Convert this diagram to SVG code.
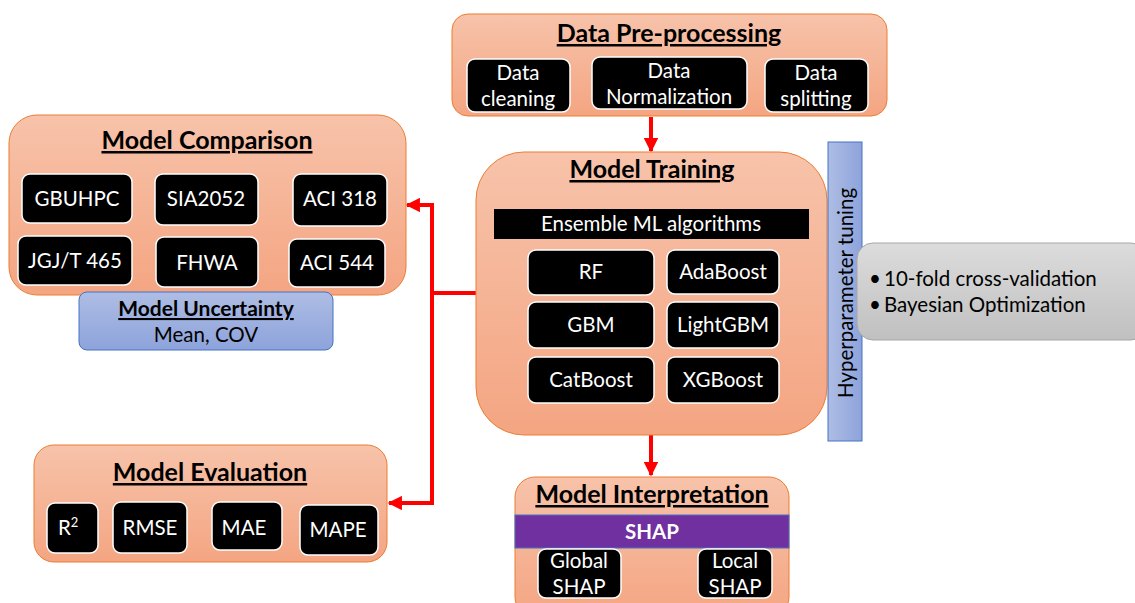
<svg xmlns="http://www.w3.org/2000/svg" width="1135" height="603" viewBox="0 0 1135 603">
  <defs>
    <linearGradient id="gOrange" x1="0" y1="0" x2="0" y2="1">
      <stop offset="0" stop-color="#f7c3aa"/>
      <stop offset="1" stop-color="#f4a582"/>
    </linearGradient>
    <linearGradient id="gBlue" x1="0" y1="0" x2="0" y2="1">
      <stop offset="0" stop-color="#aebde4"/>
      <stop offset="1" stop-color="#8da3db"/>
    </linearGradient>
    <linearGradient id="gBlueH" x1="0" y1="0" x2="1" y2="0">
      <stop offset="0" stop-color="#aebde4"/>
      <stop offset="1" stop-color="#8da3db"/>
    </linearGradient>
    <linearGradient id="gGray" x1="0" y1="0" x2="0" y2="1">
      <stop offset="0" stop-color="#dcdcdc"/>
      <stop offset="1" stop-color="#c0c0c0"/>
    </linearGradient>
    <marker id="arrow" viewBox="0 0 10 10" refX="9" refY="5" markerWidth="4" markerHeight="3.6" markerUnits="strokeWidth" orient="auto">
      <path d="M0,0 L10,5 L0,10 z" fill="#ff0000"/>
    </marker>
  </defs>
  <style>
    .panel { fill: url(#gOrange); stroke: #ed7d31; stroke-width: 1; }
    .item { fill: #000000; stroke: #ffffff; stroke-width: 1.5; }
    .title { font-family: Lato, "Liberation Sans", sans-serif; font-weight: bold; font-size: 25px; fill: #000; text-anchor: middle; text-decoration: underline; }
    .lbl { font-family: Lato, "Liberation Sans", sans-serif; font-size: 20.5px; fill: #fff; text-anchor: middle; }
    .dark { font-family: Lato, "Liberation Sans", sans-serif; font-size: 20.5px; fill: #000; }
    .wire { fill: none; stroke: #ff0000; stroke-width: 4; }
  </style>

  <!-- connectors -->
  <g id="connectors">
    <line class="wire" x1="651" y1="117" x2="651" y2="151" marker-end="url(#arrow)"/>
    <line class="wire" x1="651" y1="435" x2="651" y2="475" marker-end="url(#arrow)"/>
    <polyline class="wire" points="476,293 432,293"/>
    <polyline class="wire" points="432,293 432,205 407,205" marker-end="url(#arrow)"/>
    <polyline class="wire" points="432,293 432,503 389,503" marker-end="url(#arrow)"/>
  </g>

  <!-- data pre-processing -->
  <g id="preprocessing">
    <rect class="panel" x="452" y="14" width="435" height="102" rx="16"/>
    <text class="title" x="669" y="42">Data Pre-processing</text>
    <rect class="item" x="467" y="59" width="103" height="53" rx="8"/>
    <text class="lbl" x="518" y="80">Data</text>
    <text class="lbl" x="518" y="106">cleaning</text>
    <rect class="item" x="592" y="57" width="155" height="52" rx="8"/>
    <text class="lbl" x="669" y="78">Data</text>
    <text class="lbl" x="669" y="104">Normalization</text>
    <rect class="item" x="765" y="59" width="103" height="53" rx="8"/>
    <text class="lbl" x="816" y="80">Data</text>
    <text class="lbl" x="816" y="106">splitting</text>
  </g>

  <!-- model training -->
  <g id="training">
    <rect class="panel" x="476" y="152" width="351" height="283" rx="48"/>
    <text class="title" x="652" y="178">Model Training</text>
    <rect x="494" y="209" width="315" height="30" fill="#000"/>
    <text class="lbl" x="651" y="231">Ensemble ML algorithms</text>
    <rect class="item" x="528" y="250" width="126" height="45" rx="8"/>
    <text class="lbl" x="591" y="279">RF</text>
    <rect class="item" x="667" y="250" width="112" height="44" rx="8"/>
    <text class="lbl" x="723" y="279">AdaBoost</text>
    <rect class="item" x="528" y="302" width="126" height="46" rx="8"/>
    <text class="lbl" x="591" y="332">GBM</text>
    <rect class="item" x="667" y="302" width="112" height="46" rx="8"/>
    <text class="lbl" x="723" y="332">LightGBM</text>
    <rect class="item" x="528" y="357" width="126" height="46" rx="8"/>
    <text class="lbl" x="591" y="387">CatBoost</text>
    <rect class="item" x="667" y="357" width="112" height="46" rx="8"/>
    <text class="lbl" x="723" y="387">XGBoost</text>
  </g>

  <!-- hyperparameter tuning -->
  <g id="tuning">
    <rect x="828" y="142" width="34" height="299" fill="url(#gBlueH)" stroke="#4472c4" stroke-width="1"/>
    <text class="dark" x="0" y="0" text-anchor="middle" transform="translate(853 293) rotate(-90)">Hyperparameter tuning</text>
  </g>

  <!-- tuning details -->
  <g id="tuning-details">
    <rect x="857" y="243" width="290" height="97" rx="16" fill="url(#gGray)" stroke="#a6a6a6" stroke-width="1"/>
    <text class="dark" x="869" y="286">•</text>
    <text class="dark" x="884" y="286">10-fold cross-validation</text>
    <text class="dark" x="869" y="312">•</text>
    <text class="dark" x="884" y="312">Bayesian Optimization</text>
  </g>

  <!-- model comparison -->
  <g id="comparison">
    <rect class="panel" x="9" y="115" width="397" height="180" rx="28"/>
    <text class="title" x="207" y="149">Model Comparison</text>
    <rect class="item" x="22" y="174" width="110" height="49" rx="8"/>
    <text class="lbl" x="77" y="206">GBUHPC</text>
    <rect class="item" x="155" y="174" width="103" height="51" rx="8"/>
    <text class="lbl" x="206" y="206">SIA2052</text>
    <rect class="item" x="293" y="174" width="94" height="52" rx="8"/>
    <text class="lbl" x="340" y="206">ACI 318</text>
    <rect class="item" x="18" y="236" width="114" height="49" rx="8"/>
    <text class="lbl" x="75" y="268">JGJ/T 465</text>
    <rect class="item" x="156" y="237" width="102" height="50" rx="8"/>
    <text class="lbl" x="207" y="270">FHWA</text>
    <rect class="item" x="289" y="239" width="96" height="48" rx="8"/>
    <text class="lbl" x="337" y="270">ACI 544</text>
  </g>

  <!-- model uncertainty -->
  <g id="uncertainty">
    <rect x="79" y="292" width="254" height="58" rx="8" fill="url(#gBlue)" stroke="#4472c4" stroke-width="1"/>
    <text class="dark" x="206" y="316" text-anchor="middle" font-weight="bold" text-decoration="underline" style="font-size:21px">Model Uncertainty</text>
    <text class="dark" x="206" y="342" text-anchor="middle" style="font-size:20.5px">Mean, COV</text>
  </g>

  <!-- model evaluation -->
  <g id="evaluation">
    <rect class="panel" x="34" y="445" width="353" height="117" rx="20"/>
    <text class="title" x="210" y="481">Model Evaluation</text>
    <rect class="item" x="47" y="503" width="51" height="50" rx="8"/>
    <text class="lbl" x="58" y="535" style="text-anchor:start">R<tspan font-size="13" dy="-8">2</tspan></text>
    <rect class="item" x="113" y="502" width="74" height="51" rx="8"/>
    <text class="lbl" x="150" y="535">RMSE</text>
    <rect class="item" x="212" y="502" width="70" height="48" rx="8"/>
    <text class="lbl" x="244" y="535">MAE</text>
    <rect class="item" x="300" y="505" width="78" height="50" rx="8"/>
    <text class="lbl" x="338" y="537">MAPE</text>
  </g>

  <!-- model interpretation -->
  <g id="interpretation">
    <rect class="panel" x="515" y="477" width="274" height="140" rx="20"/>
    <text class="title" x="652" y="503">Model Interpretation</text>
    <rect x="515" y="515" width="274" height="33" fill="#7030a0" stroke="#4472c4" stroke-width="1"/>
    <text class="lbl" x="652" y="539" font-weight="bold">SHAP</text>
    <rect class="item" x="538" y="549" width="83" height="49" rx="8"/>
    <text class="lbl" x="579" y="568">Global</text>
    <text class="lbl" x="579" y="594">SHAP</text>
    <rect class="item" x="698" y="549" width="74" height="49" rx="8"/>
    <text class="lbl" x="735" y="568">Local</text>
    <text class="lbl" x="735" y="594">SHAP</text>
  </g>
</svg>
